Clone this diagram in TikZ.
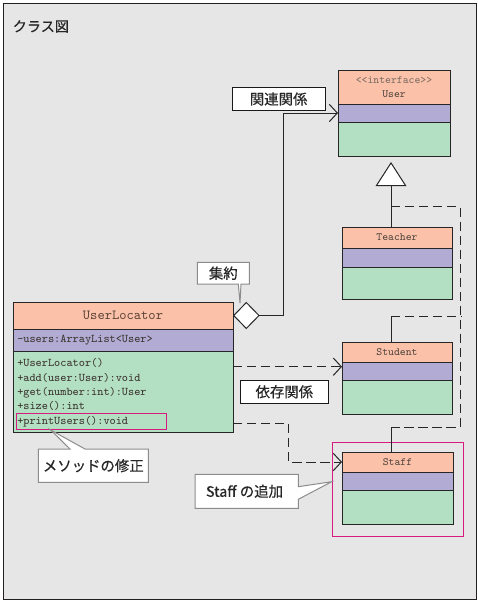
\documentclass[tikz,border=0pt]{standalone}
\usepackage{fontspec}
\newfontfamily\jp{Noto Sans CJK JP}[FakeBold=0.5]
\usetikzlibrary{arrows.meta,calc}
\definecolor{bgc}{HTML}{E6E6E7}
\definecolor{hdrc}{HTML}{FBC2A9}
\definecolor{attc}{HTML}{B2ACD4}
\definecolor{opsc}{HTML}{B3DFC2}
\definecolor{magc}{HTML}{D81B7E}
\definecolor{txtc}{HTML}{3C3430}
\definecolor{ttlc}{HTML}{5A4035}
\definecolor{hdrt}{HTML}{54463F}
\definecolor{stert}{HTML}{7E6C64}
\definecolor{callb}{HTML}{8C8C8C}
\definecolor{framec}{HTML}{231F20}
\tikzset{
  part/.style={draw=black!85, line width=0.75pt, inner sep=0pt, outer sep=0pt},
  hdr/.style={part, fill=hdrc, font=\ttfamily\fontsize{8.3}{10.5}\selectfont, text=hdrt, align=center},
  att/.style={part, fill=attc},
  ops/.style={part, fill=opsc},
  conn/.style={draw=black!85, line width=0.75pt},
  depline/.style={conn, dash pattern=on 7pt off 3.5pt},
  barb/.style={-{Straight Barb[length=6pt,width=13pt]}},
  calloutshape/.style={draw=callb, fill=white, line width=0.75pt},
  labelbox/.style={draw=black!90, fill=white, line width=0.75pt, inner sep=0pt, outer sep=0pt},
  jptext/.style={font=\jp\fontsize{10.8}{12}\selectfont, text=black!85, inner sep=0pt},
  membertext/.style={font=\ttfamily\fontsize{8.8}{10.8}\selectfont, text=txtc, inner sep=0pt, align=left},
}
% #1 name, #2 x, #3 y top, #4 h header, #5 h attr, #6 h ops, #7 width, #8 title
\newcommand\umlclass[8]{%
  \node[hdr, minimum width=#7*0.75pt, minimum height=#4*0.75pt, anchor=north west] (#1H) at (#2,#3) {#8};
  \node[att, minimum width=#7*0.75pt, minimum height=#5*0.75pt, anchor=north] (#1A) at (#1H.south) {};
  \node[ops, minimum width=#7*0.75pt, minimum height=#6*0.75pt, anchor=north] (#1O) at (#1A.south) {};
}
\begin{document}
\begin{tikzpicture}[x=0.75pt,y=-0.75pt]
\useasboundingbox (0,0) rectangle (478,603);
% frame
\node[draw=framec, fill=bgc, line width=1.1pt, minimum width=473*0.75pt, minimum height=596*0.75pt, anchor=north west, inner sep=0pt] (frame) at (3,3) {};
\node[font=\jp\fontsize{10.6}{12}\selectfont, text=black!85, inner sep=0pt, anchor=west] (title) at (12.5,26.5) {クラス図};

% classes
\umlclass{user}{338}{70}{34}{18}{34}{112}{{\color{stert}\textless\textless interface\textgreater\textgreater}\\User}
\umlclass{teacher}{342}{227}{21}{19}{32}{110}{Teacher}
\umlclass{student}{342}{342}{20.5}{18}{34}{110}{Student}
\umlclass{staff}{342}{452}{20}{18}{34}{111}{Staff}
\umlclass{ul}{13}{302}{27}{22}{81}{220}{\fontsize{10.4}{12}\selectfont\color{ttlc}UserLocator}
\node[membertext, anchor=west] (ulAttr) at (17,340) {-users:ArrayList\textless User\textgreater};
\node[membertext, anchor=north west] (ulOps) at (17,358.3) {+UserLocator()\\+add(user:User):void\\+get(number:int):User\\+size():int\\+printUsers():void};
\node[draw=magc, line width=0.75pt, minimum width=149.7*0.75pt, minimum height=16.3*0.75pt, anchor=north west, inner sep=0pt] (printBox) at (16,413) {};

% Staff highlight frame
\node[draw=magc, line width=0.75pt, minimum width=131*0.75pt, minimum height=93.5*0.75pt, anchor=north west, inner sep=0pt] (staffFrame) at (332,442) {};

% generalization
\coordinate (gtip) at (391,162);
\coordinate (gj) at (391,206.5);
\coordinate (sj) at (391,316);
\coordinate (fj) at (391,427);
\coordinate (rail) at (460,0);
\draw[conn, -{Triangle[fill=white,length=18pt,width=23pt]}] (teacherH.north -| gtip) -- (gtip);
\draw[conn] (studentH.north -| sj) -- (sj);
\draw[conn] (staffH.north -| fj) -- (fj);
\draw[depline] (gj) -- (gj -| rail) -- (fj -| rail) -- (fj);
\draw[depline] (sj) -- ($(sj -| rail)+(2,0)$);

% aggregation / association
\coordinate (abend) at (283.3,113);
\draw[conn, {Diamond[fill=white,length=20pt,width=20.5pt]}-{Straight Barb[length=6pt,width=13pt]}] (ulH.east) -| (abend) -- (userA.west);

% dependencies
\coordinate (d1) at (233,366.7);
\coordinate (d2) at (288.3,423.3);
\draw[depline, barb] (ulO.east |- d1) -- (studentH.west |- d1);
\draw[depline, barb] (ulO.east |- d2) -| (d2 |- staffH.west) -- (staffH.west);

% labels
\node[labelbox, jptext, minimum width=92.7*0.75pt, minimum height=23.4*0.75pt, anchor=north west] (assocLabel) at (232.3,87.3) {関連関係};
\node[labelbox, jptext, minimum width=88.7*0.75pt, minimum height=23*0.75pt, anchor=north west] (depLabel) at (240,380.3) {依存関係};

% callouts
\draw[calloutshape] (197.3,262.3) -- (249.3,262.3) -- (249.3,284) -- (241,284) -- (240,303) -- (238.3,284) -- (197.3,284) -- cycle;
\node[jptext] (aggNote) at (223.3,273.2) {集約};
\draw[calloutshape] (38.3,449) -- (70,449) -- (50.7,430) -- (85,449) -- (148.3,449) -- (148.3,482.3) -- (38.3,482.3) -- cycle;
\node[jptext] (methodNote) at (93.3,465.7) {メソッドの修正};
\draw[calloutshape] (195,474.3) -- (298.3,474.3) -- (298.3,486.7) -- (331.7,481.7) -- (298.3,499.3) -- (298.3,508.3) -- (195,508.3) -- cycle;
\node[jptext] (staffNote) at (244.5,491.3) {Staff の追加};
\end{tikzpicture}
\end{document}
